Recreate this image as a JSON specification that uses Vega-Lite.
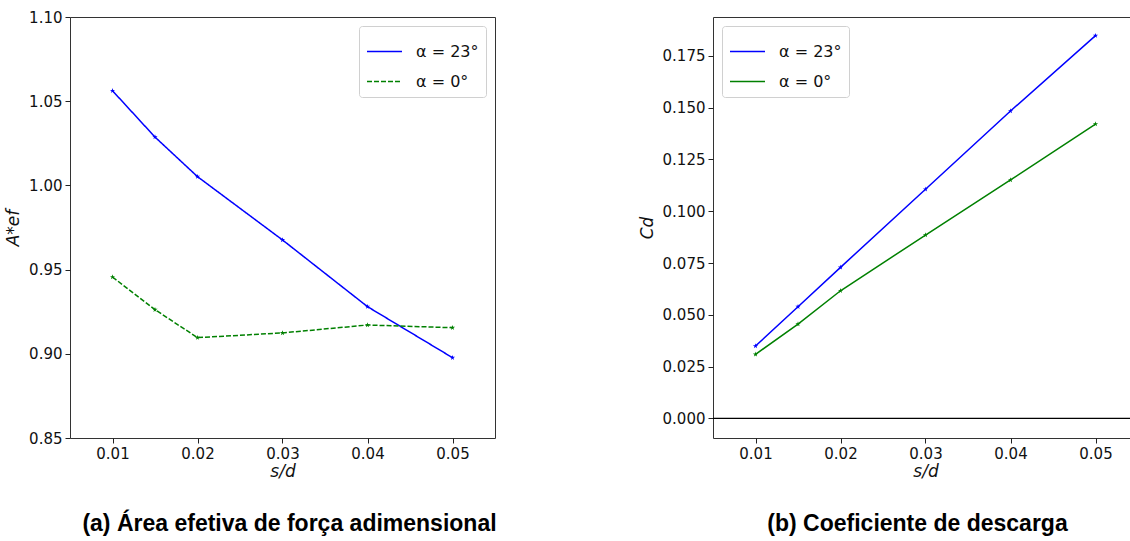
{
  "$schema": "https://vega.github.io/schema/vega-lite/v6.json",
  "padding": {"top": 9, "left": 4, "right": 0, "bottom": 0},
  "background": "white",
  "bounds": "flush",
  "spacing": 218,
  "datasets": {
    "aef": [
      {"sd": 0.01, "serie": "α = 23°", "aef": 1.0562},
      {"sd": 0.015, "serie": "α = 23°", "aef": 1.0287},
      {"sd": 0.02, "serie": "α = 23°", "aef": 1.0052},
      {"sd": 0.03, "serie": "α = 23°", "aef": 0.9676},
      {"sd": 0.04, "serie": "α = 23°", "aef": 0.928},
      {"sd": 0.05, "serie": "α = 23°", "aef": 0.8977},
      {"sd": 0.01, "serie": "α = 0°", "aef": 0.9456},
      {"sd": 0.015, "serie": "α = 0°", "aef": 0.9262},
      {"sd": 0.02, "serie": "α = 0°", "aef": 0.9096},
      {"sd": 0.03, "serie": "α = 0°", "aef": 0.9124},
      {"sd": 0.04, "serie": "α = 0°", "aef": 0.9171},
      {"sd": 0.05, "serie": "α = 0°", "aef": 0.9155}
    ],
    "cd": [
      {"sd": 0.01, "serie": "α = 23°", "cd": 0.0349},
      {"sd": 0.015, "serie": "α = 23°", "cd": 0.0539},
      {"sd": 0.02, "serie": "α = 23°", "cd": 0.0729},
      {"sd": 0.03, "serie": "α = 23°", "cd": 0.1106},
      {"sd": 0.04, "serie": "α = 23°", "cd": 0.1484},
      {"sd": 0.05, "serie": "α = 23°", "cd": 0.1848},
      {"sd": 0.01, "serie": "α = 0°", "cd": 0.0309},
      {"sd": 0.015, "serie": "α = 0°", "cd": 0.0455},
      {"sd": 0.02, "serie": "α = 0°", "cd": 0.0616},
      {"sd": 0.03, "serie": "α = 0°", "cd": 0.0885},
      {"sd": 0.04, "serie": "α = 0°", "cd": 0.1151},
      {"sd": 0.05, "serie": "α = 0°", "cd": 0.1421}
    ],
    "zero": [{"y": 0}]
  },
  "config": {
    "font": "DejaVu Sans",
    "view": {"stroke": "#333", "strokeWidth": 1},
    "axis": {
      "grid": false,
      "domain": false,
      "tickColor": "#222",
      "tickSize": 5,
      "labelFont": "DejaVu Sans",
      "labelFontSize": 15,
      "labelColor": "#111",
      "labelPadding": 3,
      "titleFont": "DejaVu Sans",
      "titleFontSize": 17,
      "titleFontWeight": "normal",
      "titleFontStyle": "italic",
      "titleColor": "#111"
    },
    "legend": {
      "labelFont": "DejaVu Sans",
      "labelFontSize": 16,
      "labelColor": "#111",
      "symbolType": "stroke",
      "symbolSize": 1225,
      "symbolStrokeWidth": 1.5,
      "strokeColor": "#d0d0d0",
      "fillColor": "white",
      "cornerRadius": 3,
      "padding": 7,
      "rowPadding": 3,
      "labelOffset": 13
    },
    "title": {
      "font": "Liberation Sans",
      "fontSize": 23,
      "fontWeight": "bold",
      "color": "#000",
      "orient": "bottom",
      "anchor": "middle",
      "offset": 34
    }
  },
  "resolve": {
    "scale": {"color": "independent", "strokeDash": "independent", "y": "independent"},
    "legend": {"color": "independent", "strokeDash": "independent"}
  },
  "hconcat": [
    {
      "width": 425,
      "height": 421,
      "title": {"text": "(a) Área efetiva de força adimensional", "dx": 7},
      "data": {"name": "aef"},
      "encoding": {
        "x": {
          "field": "sd", "type": "quantitative",
          "scale": {"domain": [0.005, 0.055], "nice": false, "zero": false},
          "axis": {"values": [0.01, 0.02, 0.03, 0.04, 0.05], "format": ".2f", "title": "s/d", "titlePadding": 2}
        },
        "y": {
          "field": "aef", "type": "quantitative",
          "scale": {"domain": [0.85, 1.10], "nice": false, "zero": false},
          "axis": {"values": [0.85, 0.9, 0.95, 1.0, 1.05, 1.1], "format": ".2f", "title": "A*ef", "titlePadding": 6}
        },
        "color": {
          "field": "serie", "type": "nominal",
          "scale": {"domain": ["α = 23°", "α = 0°"], "range": ["#0000ff", "#008000"]},
          "legend": {"title": null, "orient": "top-right", "offset": 9}
        },
        "strokeDash": {
          "field": "serie", "type": "nominal",
          "scale": {"domain": ["α = 23°", "α = 0°"], "range": [[1, 0], [5, 2]]},
          "legend": {"title": null, "orient": "top-right", "offset": 9}
        }
      },
      "layer": [
        {"mark": {"type": "line", "strokeWidth": 1.5}},
        {
          "mark": {"type": "point", "filled": true, "size": 30, "opacity": 1,
            "shape": "M0,-1L0.2245,-0.309L0.9511,-0.309L0.3633,0.118L0.5878,0.809L0,0.382L-0.5878,0.809L-0.3633,0.118L-0.9511,-0.309L-0.2245,-0.309Z"},
          "encoding": {"strokeDash": {"value": [1, 0]}}
        }
      ]
    },
    {
      "width": 425,
      "height": 421,
      "title": {"text": "(b) Coeficiente de descarga", "dx": -8},
      "layer": [
        {
          "data": {"name": "zero"},
          "mark": {"type": "rule", "color": "black", "strokeWidth": 1.2},
          "encoding": {"y": {"field": "y", "type": "quantitative"}}
        },
        {
          "data": {"name": "cd"},
          "mark": {"type": "line", "strokeWidth": 1.5},
          "encoding": {
            "x": {"field": "sd", "type": "quantitative"},
            "y": {"field": "cd", "type": "quantitative"},
            "color": {
              "field": "serie", "type": "nominal",
              "scale": {"domain": ["α = 23°", "α = 0°"], "range": ["#0000ff", "#008000"]},
              "legend": {"title": null, "orient": "top-left", "offset": 9}
            }
          }
        },
        {
          "data": {"name": "cd"},
          "mark": {"type": "point", "filled": true, "size": 30, "opacity": 1,
            "shape": "M0,-1L0.2245,-0.309L0.9511,-0.309L0.3633,0.118L0.5878,0.809L0,0.382L-0.5878,0.809L-0.3633,0.118L-0.9511,-0.309L-0.2245,-0.309Z"},
          "encoding": {
            "x": {"field": "sd", "type": "quantitative"},
            "y": {"field": "cd", "type": "quantitative"},
            "color": {"field": "serie", "type": "nominal", "legend": null}
          }
        }
      ],
      "encoding": {
        "x": {
          "type": "quantitative",
          "scale": {"domain": [0.005, 0.055], "nice": false, "zero": false},
          "axis": {"values": [0.01, 0.02, 0.03, 0.04, 0.05], "format": ".2f", "title": "s/d", "titlePadding": 2}
        },
        "y": {
          "type": "quantitative",
          "scale": {"domain": [-0.0095, 0.1938], "nice": false, "zero": false},
          "axis": {"values": [0, 0.025, 0.05, 0.075, 0.1, 0.125, 0.15, 0.175], "format": ".3f", "title": "Cd", "titlePadding": 6}
        }
      }
    }
  ]
}
